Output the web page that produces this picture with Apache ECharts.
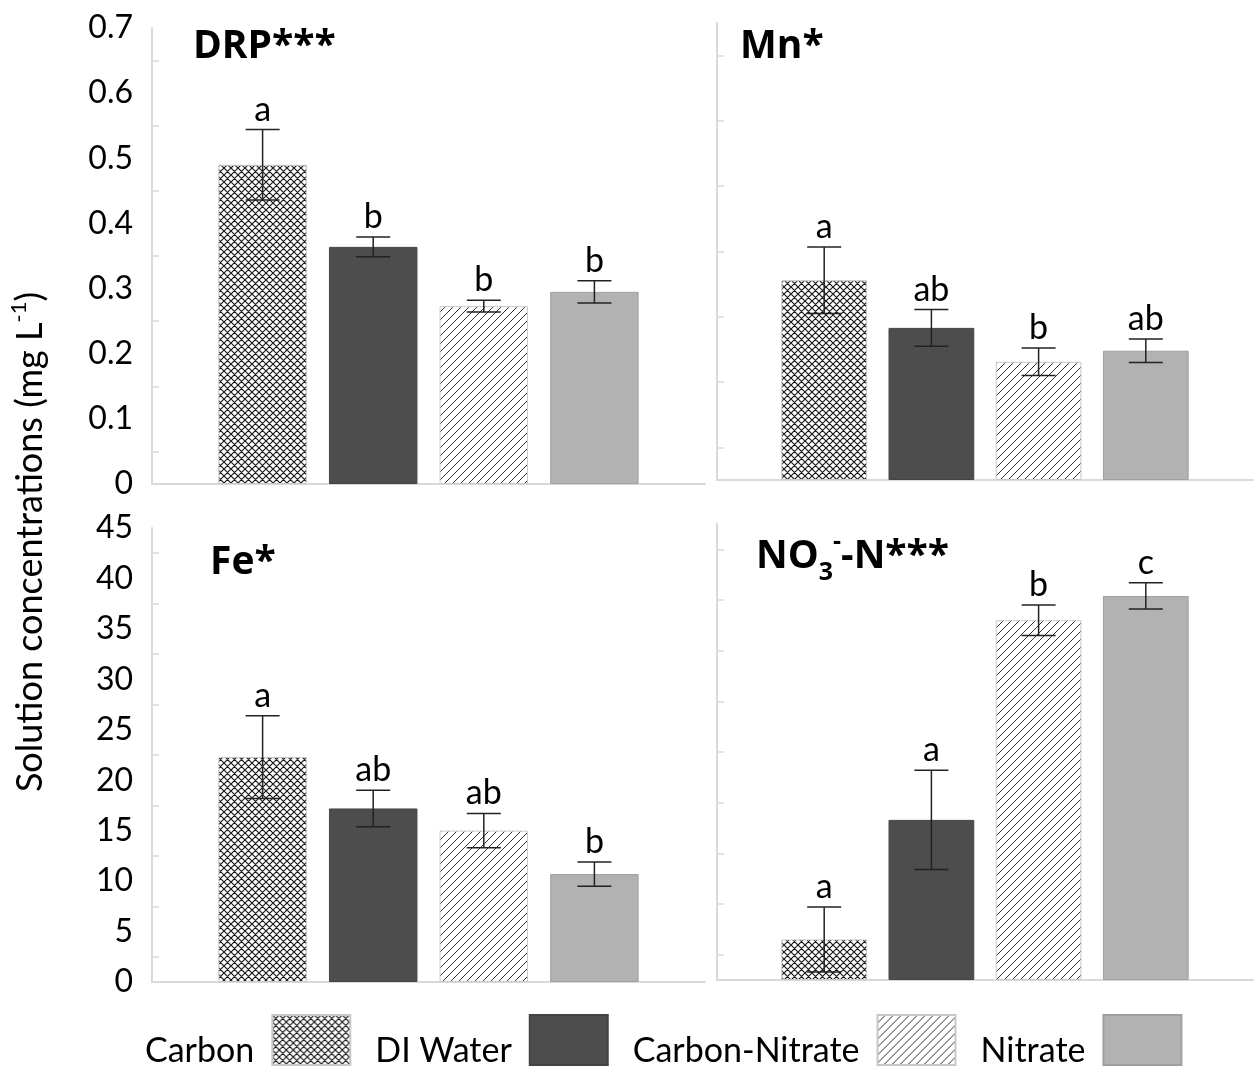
<!DOCTYPE html>
<html>
<head>
<meta charset="utf-8">
<script src="https://cdn.jsdelivr.net/npm/echarts@6/dist/echarts.min.js"></script>
<style>
  html, body { margin: 0; padding: 0; background: #fff; }
  #chart { width: 1256px; height: 1068px; }
</style>
</head>
<body>
<div id="chart"></div>
<script>
// treatments and their slot names on the x axis (empty slots left and right)
var treatments = ['Carbon', 'DI Water', 'Carbon-Nitrate', 'Nitrate'];
var slots = ['l', 'Carbon', 'DI Water', 'Carbon-Nitrate', 'Nitrate', 'r'];

// DRP (mg/L)
var drpMean = [0.490, 0.364, 0.273, 0.295];
var drpErr = [0.054, 0.015, 0.009, 0.017];
var drpLetters = ['a', 'b', 'b', 'b'];
// Mn (mg/L)
var mnMean = [0.306, 0.233, 0.181, 0.198];
var mnErr = [0.051, 0.028, 0.021, 0.018];
var mnLetters = ['a', 'ab', 'b', 'ab'];
// Fe (mg/L)
var feMean = [22.3, 17.2, 15.0, 10.7];
var feErr = [4.1, 1.8, 1.7, 1.2];
var feLetters = ['a', 'ab', 'ab', 'b'];
// NO3-N (mg/L)
var no3Mean = [4.0, 15.8, 35.5, 37.9];
var no3Err = [3.2, 4.9, 1.5, 1.3];
var no3Letters = ['a', 'a', 'b', 'c'];

var fontFamily = 'Lato';
var titleFont = 'Open Sans';
var gray = '#d9d9d9';

// hatch fills drawn on a small canvas
function hatch(size, cross, color, width) {
    var c = document.createElement('canvas');
    c.width = c.height = size;
    var g = c.getContext('2d');
    g.fillStyle = '#fff';
    g.fillRect(0, 0, size, size);
    g.strokeStyle = color;
    g.lineWidth = width;
    g.beginPath();
    // "/" lines
    g.moveTo(-1, size + 1); g.lineTo(size + 1, -1);
    g.moveTo(-1, 1); g.lineTo(1, -1);
    g.moveTo(size - 1, size + 1); g.lineTo(size + 1, size - 1);
    if (cross) {
        // "\" lines
        g.moveTo(-1, -1); g.lineTo(size + 1, size + 1);
        g.moveTo(size - 1, -1); g.lineTo(size + 1, 1);
        g.moveTo(-1, size - 1); g.lineTo(1, size + 1);
    }
    g.stroke();
    return c;
}

var styles = [
    { color: { image: hatch(7, true, '#1a1a1a', 1.2), repeat: 'repeat' }, borderColor: '#c8c8c8', borderWidth: 1 },
    { color: '#4d4d4d', borderColor: '#444', borderWidth: 1 },
    { color: { image: hatch(8, false, '#333', 1), repeat: 'repeat' }, borderColor: '#c8c8c8', borderWidth: 1 },
    { color: '#b2b2b2', borderColor: '#a0a0a0', borderWidth: 1 }
];

var panels = [
    { mean: drpMean, err: drpErr, letters: drpLetters, max: 0.7, step: 0.1, grid: { left: 152, top: 28, width: 553, height: 456 }, labels: true },
    { mean: mnMean, err: mnErr, letters: mnLetters, max: 0.7, step: 0.1, grid: { left: 717, top: 23, width: 536, height: 457 }, labels: false },
    { mean: feMean, err: feErr, letters: feLetters, max: 45, step: 5, grid: { left: 152, top: 528, width: 553, height: 454 }, labels: true },
    { mean: no3Mean, err: no3Err, letters: no3Letters, max: 45, step: 5, grid: { left: 717, top: 524, width: 536, height: 456 }, labels: false }
];

var grids = [], xAxes = [], yAxes = [], series = [];
panels.forEach(function (p, k) {
    grids.push(p.grid);
    xAxes.push({
        type: 'category', gridIndex: k, data: slots, boundaryGap: false,
        axisLine: { lineStyle: { color: gray, width: 2 } },
        axisTick: { show: false }, axisLabel: { show: false }
    });
    yAxes.push({
        type: 'value', gridIndex: k, min: 0, max: p.max, interval: p.step,
        axisLine: { show: true, lineStyle: { color: gray, width: 2 } },
        axisTick: { show: false, inside: true },
        minorTick: { show: true, splitNumber: 2, length: 7, lineStyle: { color: gray, width: 1.5 } },
        splitLine: { show: false },
        axisLabel: { show: p.labels, fontSize: 32, color: '#000', fontFamily: fontFamily, margin: 19 }
    });
    treatments.forEach(function (t, i) {
        series.push({
            type: 'bar', name: t, xAxisIndex: k, yAxisIndex: k,
            barWidth: '80%', barGap: '-100%',
            itemStyle: styles[i],
            data: slots.map(function (s) { return s === t ? p.mean[i] : '-'; })
        });
    });
    series.push({
        type: 'custom', xAxisIndex: k, yAxisIndex: k, z: 10, silent: true,
        data: treatments.map(function (t, i) { return [t, p.mean[i] - p.err[i], p.mean[i] + p.err[i]]; }),
        renderItem: function (params, api) {
            var lo = api.coord([api.value(0), api.value(1)]);
            var hi = api.coord([api.value(0), api.value(2)]);
            var cap = 17;
            var ls = { stroke: '#222', lineWidth: 1.5 };
            return {
                type: 'group', children: [
                    { type: 'line', shape: { x1: hi[0], y1: hi[1], x2: lo[0], y2: lo[1] }, style: ls },
                    { type: 'line', shape: { x1: hi[0] - cap, y1: hi[1], x2: hi[0] + cap, y2: hi[1] }, style: ls },
                    { type: 'line', shape: { x1: lo[0] - cap, y1: lo[1], x2: lo[0] + cap, y2: lo[1] }, style: ls },
                    { type: 'text', x: hi[0], y: hi[1] - 3, style: {
                        text: p.letters[params.dataIndex], fontSize: 34, fontFamily: fontFamily, fill: '#000',
                        align: 'center', verticalAlign: 'bottom' } }
                ]
            };
        }
    });
});

var titleStyle = { fontSize: 39, fontWeight: 'bold', color: '#000', fontFamily: titleFont };
var chart = echarts.init(document.getElementById('chart'));
chart.setOption({
    animation: false,
    backgroundColor: '#fff',
    title: [
        { text: 'DRP***', left: 188, top: 22, textStyle: titleStyle },
        { text: 'Mn*', left: 735, top: 22, textStyle: titleStyle },
        { text: 'Fe*', left: 205, top: 538, textStyle: titleStyle },
        { text: '{n|NO}{s|3}{p|-}{n|-N***}', left: 751, top: 524, textStyle: {
            fontFamily: titleFont,
            rich: {
                n: { fontSize: 39, fontWeight: 'bold', color: '#000', fontFamily: titleFont, lineHeight: 56, verticalAlign: 'middle' },
                s: { fontSize: 25, fontWeight: 'bold', color: '#000', fontFamily: titleFont, lineHeight: 25, verticalAlign: 'bottom' },
                p: { fontSize: 25, fontWeight: 'bold', color: '#000', fontFamily: titleFont, lineHeight: 25, verticalAlign: 'top' }
            } } }
    ],
    legend: {
        data: treatments, left: 140, top: 1007, icon: 'rect',
        itemWidth: 78, itemHeight: 50, itemGap: 24, align: 'right',
        formatter: '{t|{name}}',
        textStyle: {
            fontSize: 34, color: '#000', fontFamily: fontFamily, padding: [0, 13, 0, 0],
            rich: { t: { fontSize: 34, color: '#000', fontFamily: fontFamily, lineHeight: 34, padding: [22, 0, 0, 0] } }
        }
    },
    graphic: [{
        type: 'text', x: 30, y: 542, rotation: Math.PI / 2,
        style: {
            text: '{a|Solution concentrations (mg L}{b|-1}{a|)}',
            align: 'center', verticalAlign: 'middle',
            rich: {
                a: { fontSize: 36, fontFamily: fontFamily, fill: '#000', lineHeight: 44, verticalAlign: 'middle' },
                b: { fontSize: 22, fontFamily: fontFamily, fill: '#000', lineHeight: 22, verticalAlign: 'top' }
            }
        }
    }],
    grid: grids,
    xAxis: xAxes,
    yAxis: yAxes,
    series: series
});
</script>
</body>
</html>
